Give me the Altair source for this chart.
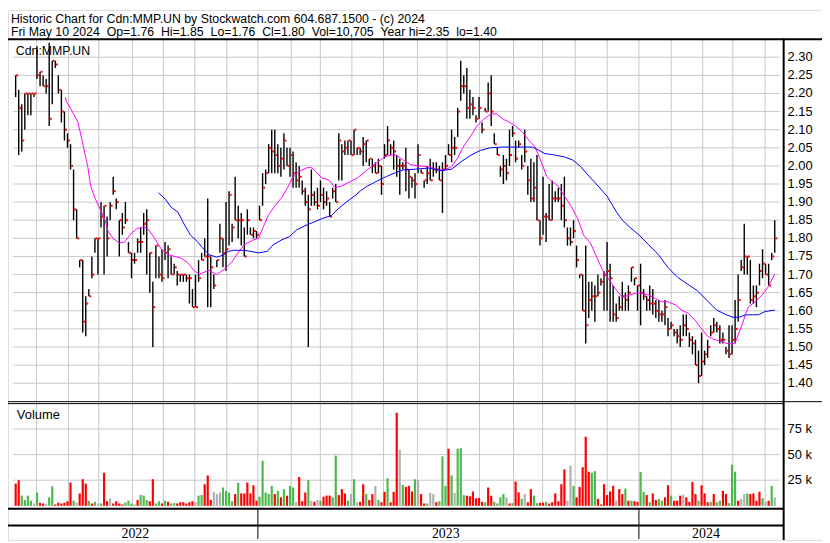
import altair as alt
import pandas as pd

# ---------------- data ----------------
# one bar per two trading days (day index 0 = mid-May 2022)
high = [2.25, 2.21, 2.17, 2.20, 2.20, 2.20, 2.20, 2.33, 2.26, 2.25,
        2.24, 2.34, 2.29, 2.29, 2.25, 2.21, 2.15, 2.09, 2.06, 1.99,
        1.88, 1.74, 1.74, 1.64, 1.66, 1.75, 1.80, 1.80, 1.90, 1.89,
        1.86, 1.90, 1.97, 1.91, 1.85, 1.87, 1.90, 1.79, 1.76, 1.76,
        1.80, 1.83, 1.87, 1.88, 1.76, 1.68, 1.78, 1.75, 1.77, 1.79,
        1.78, 1.75, 1.73, 1.71, 1.70, 1.70, 1.70, 1.70, 1.66, 1.70,
        1.74, 1.76, 1.80, 1.91, 1.75, 1.70, 1.74, 1.84, 1.80, 1.90,
        1.93, 1.84, 1.97, 1.89, 1.87, 1.83, 1.88, 1.83, 1.83, 1.82,
        1.89, 1.98, 1.99, 2.06, 2.10, 2.10, 2.06, 2.05, 2.09, 2.05,
        2.05, 2.04, 2.01, 2.00, 1.96, 1.94, 1.92, 1.99, 1.93, 1.94,
        1.96, 1.94, 1.93, 1.90, 1.94, 1.95, 2.09, 2.06, 2.07, 2.07,
        2.07, 2.10, 2.05, 2.05, 2.08, 2.07, 2.02, 2.02, 2.01, 2.02,
        2.00, 2.06, 2.11, 2.06, 2.07, 2.03, 2.02, 2.01, 2.05, 1.99,
        1.97, 1.98, 2.06, 1.99, 1.96, 2.00, 2.02, 2.01, 2.01, 2.00,
        2.01, 2.03, 2.06, 2.10, 2.08, 2.16, 2.29, 2.25, 2.27, 2.21,
        2.19, 2.14, 2.19, 2.12, 2.16, 2.23, 2.25, 2.09, 2.05, 2.00,
        2.03, 2.02, 2.10, 2.11, 2.07, 2.07, 2.03, 2.10, 2.00, 2.02,
        2.01, 2.03, 1.85, 1.97, 1.87, 1.95, 1.96, 1.93, 1.94, 1.95,
        1.97, 1.83, 1.83, 1.85, 1.78, 1.70, 1.70, 1.78, 1.68, 1.68,
        1.67, 1.70, 1.69, 1.71, 1.79, 1.73, 1.67, 1.62, 1.64, 1.68,
        1.65, 1.67, 1.72, 1.69, 1.67, 1.73, 1.66, 1.64, 1.67, 1.66,
        1.63, 1.63, 1.60, 1.63, 1.58, 1.57, 1.55, 1.55, 1.56, 1.59,
        1.59, 1.54, 1.53, 1.52, 1.49, 1.54, 1.49, 1.52, 1.56, 1.58,
        1.57, 1.56, 1.54, 1.50, 1.56, 1.56, 1.63, 1.70, 1.74, 1.84,
        1.75, 1.74, 1.67, 1.67, 1.73, 1.77, 1.73, 1.73, 1.76, 1.85]

low = [2.19, 2.03, 2.04, 2.10, 2.14, 2.14, 2.19, 2.24, 2.22, 2.22,
       2.20, 2.11, 2.17, 2.27, 2.20, 2.12, 2.07, 2.05, 1.99, 1.85,
       1.80, 1.72, 1.54, 1.53, 1.64, 1.69, 1.76, 1.70, 1.83, 1.70,
       1.75, 1.85, 1.92, 1.88, 1.75, 1.81, 1.84, 1.76, 1.69, 1.73,
       1.76, 1.76, 1.81, 1.70, 1.65, 1.50, 1.69, 1.69, 1.68, 1.74,
       1.69, 1.70, 1.70, 1.67, 1.68, 1.68, 1.68, 1.62, 1.61, 1.61,
       1.68, 1.74, 1.75, 1.61, 1.61, 1.66, 1.72, 1.76, 1.72, 1.71,
       1.78, 1.79, 1.85, 1.80, 1.78, 1.75, 1.81, 1.81, 1.80, 1.80,
       1.85, 1.89, 1.95, 1.98, 1.98, 1.98, 1.98, 1.97, 1.99, 2.00,
       1.97, 1.94, 1.94, 1.94, 1.92, 1.89, 1.50, 1.89, 1.89, 1.88,
       1.90, 1.88, 1.89, 1.86, 1.91, 1.90, 1.96, 1.96, 2.03, 2.03,
       2.03, 2.03, 2.03, 2.03, 2.00, 2.01, 2.00, 1.98, 1.98, 1.98,
       1.92, 2.02, 2.03, 2.03, 1.99, 1.97, 1.92, 1.99, 1.93, 1.91,
       1.94, 1.91, 1.98, 1.98, 1.94, 1.95, 1.96, 1.97, 1.98, 1.96,
       1.87, 1.99, 2.03, 2.01, 2.03, 2.08, 2.18, 2.20, 2.13, 2.13,
       2.14, 2.12, 2.13, 2.09, 2.15, 2.15, 2.11, 2.06, 2.03, 1.97,
       1.95, 1.96, 2.00, 2.08, 2.01, 2.05, 1.99, 2.01, 1.92, 1.90,
       1.90, 1.85, 1.78, 1.81, 1.79, 1.85, 1.85, 1.90, 1.90, 1.85,
       1.83, 1.78, 1.78, 1.80, 1.72, 1.69, 1.60, 1.51, 1.58, 1.60,
       1.57, 1.64, 1.67, 1.60, 1.60, 1.57, 1.57, 1.57, 1.60, 1.60,
       1.60, 1.60, 1.68, 1.67, 1.60, 1.56, 1.63, 1.60, 1.60, 1.59,
       1.58, 1.57, 1.57, 1.56, 1.53, 1.55, 1.53, 1.51, 1.50, 1.53,
       1.53, 1.50, 1.48, 1.45, 1.40, 1.42, 1.45, 1.47, 1.53, 1.54,
       1.54, 1.51, 1.51, 1.48, 1.47, 1.48, 1.51, 1.57, 1.71, 1.70,
       1.70, 1.62, 1.62, 1.61, 1.67, 1.69, 1.70, 1.67, 1.74, 1.76]

close = [2.25, 2.16, 2.07, 2.20, 2.20, 2.20, 2.20, 2.25, 2.26, 2.22,
         2.22, 2.13, 2.29, 2.28, 2.21, 2.15, 2.10, 2.07, 2.00, 1.88,
         1.80, 1.74, 1.57, 1.62, 1.64, 1.70, 1.80, 1.80, 1.86, 1.89,
         1.80, 1.89, 1.93, 1.90, 1.85, 1.83, 1.85, 1.76, 1.74, 1.74,
         1.79, 1.79, 1.84, 1.85, 1.76, 1.61, 1.78, 1.70, 1.69, 1.76,
         1.77, 1.70, 1.72, 1.70, 1.70, 1.70, 1.69, 1.69, 1.61, 1.61,
         1.69, 1.74, 1.75, 1.75, 1.72, 1.67, 1.74, 1.80, 1.76, 1.77,
         1.92, 1.83, 1.85, 1.85, 1.85, 1.75, 1.85, 1.81, 1.82, 1.81,
         1.85, 1.94, 1.98, 2.05, 2.04, 2.03, 2.00, 2.02, 2.07, 2.00,
         2.03, 1.98, 1.96, 1.97, 1.93, 1.90, 1.88, 1.92, 1.90, 1.89,
         1.92, 1.90, 1.91, 1.86, 1.93, 1.90, 2.07, 2.04, 2.05, 2.07,
         2.03, 2.10, 2.05, 2.04, 2.06, 2.07, 2.02, 2.00, 1.98, 2.00,
         1.95, 2.03, 2.07, 2.05, 2.04, 2.00, 2.00, 2.00, 1.99, 1.97,
         1.96, 1.95, 2.03, 1.98, 1.96, 1.98, 1.96, 1.99, 1.99, 1.96,
         1.99, 2.00, 2.03, 2.05, 2.05, 2.15, 2.22, 2.22, 2.16, 2.17,
         2.16, 2.13, 2.16, 2.10, 2.15, 2.20, 2.15, 2.06, 2.03, 1.99,
         2.00, 1.98, 2.03, 2.09, 2.02, 2.06, 2.00, 2.04, 1.96, 1.91,
         1.94, 1.85, 1.80, 1.86, 1.86, 1.85, 1.91, 1.91, 1.91, 1.89,
         1.85, 1.80, 1.79, 1.82, 1.74, 1.70, 1.60, 1.56, 1.63, 1.64,
         1.64, 1.65, 1.68, 1.70, 1.71, 1.69, 1.59, 1.58, 1.61, 1.64,
         1.63, 1.65, 1.72, 1.69, 1.67, 1.65, 1.64, 1.63, 1.62, 1.62,
         1.60, 1.59, 1.59, 1.61, 1.55, 1.56, 1.54, 1.53, 1.52, 1.56,
         1.55, 1.52, 1.51, 1.45, 1.42, 1.46, 1.48, 1.50, 1.54, 1.56,
         1.55, 1.52, 1.52, 1.49, 1.48, 1.52, 1.55, 1.63, 1.72, 1.75,
         1.75, 1.63, 1.64, 1.65, 1.71, 1.73, 1.70, 1.67, 1.75, 1.80]

# volume in thousands, and direction (r = down, g = up, n = unchanged)
volume_k = [21.7, 25, 10, 5.7, 10, 5, 2.3, 13, 3, 2.3,
            1.7, 8.3, 19, 1.3, 3, 2.3, 3, 4.5, 22.7, 5,
            3, 12, 26, 21.7, 5, 2.3, 3.9, 2.3, 2.3, 32.3,
            4.5, 7.3, 2.3, 4.5, 2.3, 1.3, 3.2, 5, 2.3, 1.3,
            5.7, 10.5, 10, 5.7, 4.5, 26, 2.3, 4.5, 2.3, 5,
            3.9, 2.3, 2.6, 2.3, 3.5, 3.5, 2.3, 3.5, 4.5, 3.5,
            10, 10.5, 21.1, 29.7, 5.7, 13.7, 11.5, 13, 17.9, 14.7,
            12.8, 4.5, 11.5, 22.7, 12.1, 12.1, 22.7, 12.1, 20.1, 5,
            8.9, 44.1, 13, 11.5, 19.5, 11.5, 14.7, 8.3, 16.3, 9.9,
            19.5, 17.9, 3.5, 28.1, 4.5, 13, 25, 5, 3.9, 5.7,
            5, 8.9, 10, 10, 8.3, 49, 10.5, 16.3, 12.1, 5,
            11.5, 25.9, 3.5, 3.9, 21.1, 11.5, 5.7, 11.5, 19.5, 5.7,
            3.5, 13.7, 26.9, 3.5, 13.7, 90.9, 54.7, 20.5, 18.5, 19.5,
            14, 26, 25, 11.5, 2.3, 2.3, 12.5, 11.5, 3.5, 4.5,
            48.3, 19.5, 55.7, 29.7, 12.5, 55.7, 56.3, 10.5, 9.9, 9.3,
            14, 7.3, 7.7, 3.9, 3.5, 17.9, 9.9, 3.9, 2.3, 8.3,
            11.5, 8.3, 2.3, 2.6, 23.7, 13.1, 6.7, 11.5, 3.5, 16.3,
            9.9, 2.6, 3, 3, 3.9, 2.3, 3.5, 12.1, 4.5, 21.1,
            35.5, 5, 39.3, 19.5, 8.3, 18.5, 37.7, 67.5, 33.3, 32.3,
            33.9, 6.7, 1.3, 21.1, 10.5, 14, 19.5, 5, 16.3, 11.5,
            16.9, 5, 5, 4.5, 3.9, 33, 13.7, 10.5, 3.5, 12.1,
            5.7, 6.7, 5, 8.3, 20.1, 9.9, 5, 5, 9.9, 10.9,
            8.3, 3.9, 23.3, 11.5, 5, 20.1, 12.1, 3.5, 3.9, 11.5,
            3.5, 5, 14.7, 11.5, 2.6, 40.3, 33.3, 5, 6.7, 11.5,
            12.1, 11.5, 12.1, 5, 13.7, 7.3, 3.9, 5, 19.5, 8.3]

volume_dir = list(
    "rrggggngrr" "nggrrrrrrg" "nrrrgrgngr" "rnrrrrgggg" "rgggrrggrg"
    "rggrrrrrrn" "ggrrrnnngg" "ggrgrrrrrr" "gggggrgrgr" "ggnrrrgnrn"
    "grrrggrrrg" "ngnrrgrrng" "rrgrrrngrr" "rgnrrgnnrg" "ggrgngggrr"
    "rrrrgrrggg" "gnrgrrgnrr" "ggrrgrrrrr" "rnngrrrrrg" "grrrrrrnrr"
    "grgrrggrgr" "rggrrgrrrn" "rrrrgrrrgr" "ggrrgggrnn" "grrrrgnrgn")

# moving averages (day index, price)
ma_short = [(32.6, 2.19), (33.2, 2.178), (36.4, 2.156), (40.9, 2.12), (44.1, 2.06),
            (47.3, 1.998), (49.2, 1.944), (52.4, 1.908), (55.5, 1.88), (58.7, 1.85),
            (60.6, 1.82), (63.8, 1.80), (68.3, 1.787), (71.5, 1.79), (75.9, 1.814),
            (79.7, 1.827), (84.2, 1.832), (87.4, 1.823), (91.8, 1.796), (95.7, 1.769),
            (100.1, 1.755), (104.6, 1.75), (108.4, 1.746), (112.8, 1.733), (117.3, 1.71),
            (120.5, 1.701), (122.4, 1.704), (126.8, 1.712), (131.9, 1.70), (137.0, 1.715),
            (141.5, 1.733), (145.9, 1.76), (149.8, 1.782), (156.1, 1.796), (159.3, 1.80),
            (162.5, 1.832), (165.7, 1.863), (170.1, 1.89), (174.6, 1.913), (178.4, 1.94),
            (181.6, 1.967), (186.1, 1.985), (190.5, 1.994), (193.7, 1.996), (196.9, 1.985),
            (200.7, 1.967), (205.2, 1.962), (209.6, 1.94), (213.4, 1.944), (217.9, 1.953),
            (224.3, 1.967), (230.6, 1.989), (237.0, 2.009), (242.1, 2.025), (246.5, 2.03),
            (249.7, 2.03), (254.2, 2.016), (259.3, 2.003), (264.4, 2.0), (270.7, 1.998),
            (277.1, 1.989), (281.6, 1.989), (286.0, 1.998), (289.9, 2.021), (294.3, 2.057),
            (298.8, 2.084), (302.6, 2.11), (307.0, 2.129), (311.5, 2.142), (315.3, 2.144),
            (319.8, 2.129), (324.2, 2.12), (328.0, 2.11), (332.5, 2.093), (336.9, 2.07),
            (340.8, 2.052), (345.2, 2.007), (348.4, 1.971), (351.6, 1.958), (356.0, 1.944),
            (359.9, 1.917), (364.3, 1.89), (368.8, 1.854), (372.6, 1.809), (377.1, 1.787),
            (381.5, 1.745), (385.3, 1.71), (389.8, 1.683), (394.3, 1.656), (398.1, 1.638),
            (402.6, 1.643), (407.0, 1.649), (410.9, 1.649), (415.3, 1.643), (419.8, 1.634),
            (423.6, 1.625), (428.0, 1.625), (432.9, 1.616), (436.7, 1.602), (441.2, 1.593),
            (445.6, 1.575), (449.5, 1.553), (453.9, 1.53), (458.0, 1.521), (462.1, 1.517),
            (466.2, 1.51), (470.7, 1.508), (472.6, 1.517), (474.5, 1.539), (477.0, 1.566),
            (479.0, 1.593), (480.8, 1.611), (485.2, 1.625), (489.7, 1.643), (493.5, 1.665),
            (498.0, 1.701)]

ma_long = [(93.7, 1.926), (98.2, 1.908), (102.0, 1.886), (106.5, 1.872), (110.9, 1.836),
           (114.7, 1.809), (119.2, 1.791), (122.4, 1.775), (126.8, 1.755), (131.9, 1.748),
           (136.4, 1.754), (139.6, 1.764), (143.4, 1.767), (149.8, 1.767), (154.2, 1.764),
           (159.3, 1.76), (165.1, 1.764), (168.9, 1.782), (174.6, 1.796), (179.7, 1.805),
           (184.2, 1.823), (190.5, 1.836), (195.6, 1.845), (200.7, 1.854), (207.1, 1.863),
           (211.5, 1.881), (216.6, 1.899), (222.4, 1.917), (226.2, 1.931), (230.6, 1.944),
           (237.0, 1.958), (243.4, 1.971), (249.7, 1.982), (254.2, 1.989), (262.5, 1.991),
           (270.7, 1.994), (279.7, 1.987), (286.0, 1.991), (292.4, 2.012), (298.8, 2.03),
           (305.1, 2.043), (311.5, 2.05), (319.8, 2.052), (330.6, 2.052), (338.9, 2.052),
           (343.3, 2.043), (347.2, 2.034), (353.5, 2.03), (359.9, 2.025), (365.6, 2.016),
           (370.7, 1.998), (375.2, 1.976), (380.3, 1.953), (387.9, 1.917), (394.3, 1.872),
           (398.1, 1.85), (402.6, 1.832), (409.0, 1.809), (415.3, 1.782), (421.7, 1.755),
           (428.0, 1.719), (434.4, 1.692), (440.7, 1.674), (447.1, 1.656), (453.5, 1.629),
           (459.9, 1.602), (466.2, 1.589), (470.7, 1.582), (474.5, 1.582), (479.0, 1.589),
           (483.4, 1.589), (487.2, 1.589), (491.7, 1.598), (498.0, 1.602)]

# month boundaries (trading-day index) and year labels
month_starts = [13.7, 34.7, 54.5, 76.7, 96.9, 117.5, 138.5, 158.9, 180.8, 199.9, 220.6, 241.3,
                263.6, 283.0, 304.3, 326.6, 345.7, 367.1, 388.1, 408.9, 430.1, 450.8, 470.5, 491.7]
year_starts = [158.9, 408.9]
years = ["2022", "2023", "2024"]
year_mid = [78.5, 282.2, 452.9]

price_levels = [1.40, 1.45, 1.50, 1.55, 1.60, 1.65, 1.70, 1.75, 1.80, 1.85,
                1.90, 1.95, 2.00, 2.05, 2.10, 2.15, 2.20, 2.25, 2.30]
volume_levels = [25000, 50000, 75000]
volume_labels = ["25 k", "50 k", "75 k"]

title1 = "Historic Chart for Cdn:MMP.UN by Stockwatch.com 604.687.1500 - (c) 2024"
title2 = ("Fri May 10 2024  Op=1.76  Hi=1.85  Lo=1.76  Cl=1.80  "
          "Vol=10,705  Year hi=2.35  lo=1.40").replace("  ", "\u00a0\u00a0")

# ---------------- layout (page is 830x543 with an 8px margin) ----------------
SX, SY = 822 / 830, 535 / 543
def U(x):
    return round(x * SX, 2)
def V(y):
    return round(y * SY, 2)

# ---------------- tables ----------------
bars = pd.DataFrame({"day": [2 * i for i in range(len(high))],
                     "high": high, "low": low, "close": close})
vol = pd.DataFrame({"day": [2 * i for i in range(len(volume_k))],
                    "v": [v * 1000 for v in volume_k], "dir": volume_dir})
mas = pd.DataFrame([(d, p, "short") for d, p in ma_short] + [(d, p, "long") for d, p in ma_long],
                   columns=["day", "p", "ma"])
months = pd.DataFrame({"day": month_starts})
ysep = pd.DataFrame({"day": year_starts})
ylab = pd.DataFrame({"day": year_mid, "year": years})
plev = pd.DataFrame({"p": price_levels})
vlev = pd.DataFrame({"v": volume_levels, "lab": volume_labels})
one = pd.DataFrame({"k": [0]})

DMIN, DMAX = -1.77, 501.25
XS = alt.Scale(domain=[DMIN, DMAX], range=[0, U(790)], nice=False, zero=False)
PS = alt.Scale(domain=[1.35, 2.35], range=[V(400.2), V(29.8)], nice=False, zero=False)
VS = alt.Scale(domain=[0, 100000], range=[V(507), V(402.3)], nice=False)
FONT = "Liberation Sans"
GRID = "#c8c8c8"

def xq(field):
    return alt.X(field, type="quantitative", scale=XS, axis=None)

# ---------------- price panel ----------------
p_hgrid = alt.Chart(plev).mark_rule(color=GRID, strokeWidth=1).encode(
    y=alt.Y("p:Q", scale=PS, axis=None),
    x=alt.X(datum=DMIN, scale=XS, axis=None), x2=alt.X2(datum=DMAX))
p_lab = alt.Chart(plev).mark_text(align="left", baseline="middle", font=FONT, fontSize=13,
                                  color="black").encode(
    y=alt.Y("p:Q", scale=PS, axis=None), x=alt.value(U(793)),
    text=alt.Text("p:Q", format=".2f"))
p_vgrid = alt.Chart(months).mark_rule(color=GRID, strokeWidth=1).encode(
    x=xq("day"), y=alt.Y(datum=1.35, scale=PS, axis=None), y2=alt.Y2(datum=2.35))
p_bars = alt.Chart(bars).mark_rule(color="black", strokeWidth=1.4).encode(
    x=xq("day"), y=alt.Y("low:Q", scale=PS, axis=None), y2="high:Q")
p_close = alt.Chart(bars).mark_square(size=4, color="#ff0000", opacity=1, xOffset=1.5).encode(
    x=xq("day"), y=alt.Y("close:Q", scale=PS, axis=None))
p_ma = alt.Chart(mas).mark_line(strokeWidth=1).encode(
    x=xq("day"), y=alt.Y("p:Q", scale=PS, axis=None),
    color=alt.Color("ma:N", scale=alt.Scale(domain=["short", "long"], range=["#ff00ff", "#0000ff"]),
                    legend=None),
    detail="ma:N")
price = alt.layer(p_hgrid, p_vgrid, p_bars, p_close, p_ma, p_lab)

# ---------------- volume panel ----------------
v_hgrid = alt.Chart(vlev).mark_rule(color=GRID, strokeWidth=1).encode(
    y=alt.Y("v:Q", scale=VS, axis=None),
    x=alt.X(datum=DMIN, scale=XS, axis=None), x2=alt.X2(datum=DMAX))
v_lab = alt.Chart(vlev).mark_text(align="left", baseline="middle", font=FONT, fontSize=13,
                                  color="black").encode(
    y=alt.Y("v:Q", scale=VS, axis=None), x=alt.value(U(793)), text="lab:N")
v_vgrid = alt.Chart(months).mark_rule(color=GRID, strokeWidth=1).encode(
    x=xq("day"), y=alt.Y(datum=0, scale=VS, axis=None), y2=alt.Y2(datum=100000))
v_bars = alt.Chart(vol).mark_bar(size=2.2, orient="vertical").encode(
    x=xq("day"), y=alt.Y("v:Q", scale=VS, axis=None),
    color=alt.Color("dir:N", scale=alt.Scale(domain=["r", "g", "n"],
                                             range=["#ff0000", "#4db84d", "#b0b0b0"]), legend=None))
volume = alt.layer(v_hgrid, v_vgrid, v_bars, v_lab)

# ---------------- frame and labels ----------------
def hline(y, x1, x2, w):
    return alt.Chart(one).mark_rule(color="black", strokeWidth=w).encode(
        y=alt.value(V(y)), x=alt.value(U(x1)), x2=alt.value(U(x2)))

def vline(x, y1, y2, w):
    return alt.Chart(one).mark_rule(color="black", strokeWidth=w).encode(
        x=alt.value(U(x)), y=alt.value(V(y1)), y2=alt.value(V(y2)))

frame = [hline(30, 0, 829, 2), vline(789, 29, 542, 2), hline(400.5, 0, 828, 1),
         hline(402.5, 0, 789, 1), hline(510, 0, 789, 2), hline(527, 0, 789, 2)]
seps = alt.Chart(ysep).mark_rule(color="black", strokeWidth=1).encode(
    x=xq("day"), y=alt.value(V(510)), y2=alt.value(V(541)))

def label(text, x, y, size, font=FONT):
    return alt.Chart(one).mark_text(align="left", baseline="alphabetic", font=font,
                                    fontSize=size, color="black").encode(
        x=alt.value(U(x)), y=alt.value(V(y)), text=alt.value(text))

labels = [label(title1, 3, 13, 12.4), label(title2, 3, 27, 12.4),
          label("Cdn:MMP.UN", 8, 46, 12.4), label("Volume", 9, 418, 13)]
year_text = alt.Chart(ylab).mark_text(align="center", baseline="alphabetic",
                                      font="Liberation Sans Narrow", fontSize=14,
                                      color="black").encode(
    x=xq("day"), y=alt.value(V(539.5)), text="year:N")

chart = alt.layer(price, volume, *frame, seps, year_text, *labels).resolve_scale(
    y="independent", color="independent"
).properties(
    width=U(828), height=V(542),
    autosize=alt.AutoSizeParams(type="none"),
    padding={"left": 0, "top": 0, "right": 0, "bottom": 0},
).configure_view(stroke="black", strokeWidth=2).configure(font=FONT)

chart.save("out.html", embed_options={"renderer": "svg", "actions": False})
